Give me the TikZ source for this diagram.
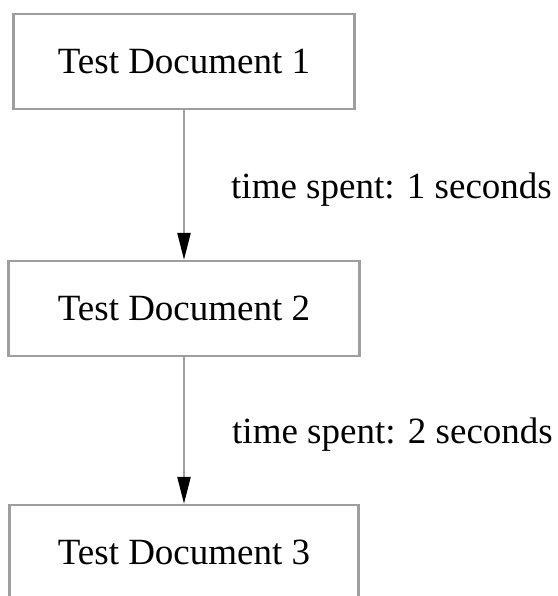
\documentclass[tikz,border=0pt]{standalone}
\usepackage{fontspec}
\setmainfont{Liberation Serif}
\usetikzlibrary{arrows.meta}
\definecolor{edgegray}{RGB}{158,158,158}
\tikzset{
  docbox/.style={draw=edgegray, line width=2.3pt, fill=white, minimum height=95pt,
    inner sep=0pt, font=\fontsize{37}{44}\selectfont},
  flow/.style={draw=edgegray, line width=2.3pt,
    -{Triangle[length=27pt,width=13pt,fill=black,color=black]}},
  timelabel/.style={anchor=base west, inner sep=0pt, font=\fontsize{37}{44}\selectfont}
}
\begin{document}
\begin{tikzpicture}[x=1pt,y=-1pt]
  \useasboundingbox (0,0) rectangle (557,596);
  \clip (0,0) rectangle (557,596);
  \fill[white] (0,0) rectangle (557,596);
  % document boxes
  \node[docbox, minimum width=341pt] (d1) at (184,61.5) {Test Document 1};
  \node[docbox, minimum width=351pt] (d2) at (184,308.5) {Test Document 2};
  \node[docbox, minimum width=349pt] (d3) at (184,552.5) {Test Document 3};
  % transitions between documents
  \draw[flow] (d1) -- (d2);
  \draw[flow] (d2) -- (d3);
  % timing labels
  \node[timelabel] (t1) at (231,198) {time spent: 1 seconds};
  \node[timelabel] (t2) at (232,443) {time spent: 2 seconds};
\end{tikzpicture}
\end{document}
